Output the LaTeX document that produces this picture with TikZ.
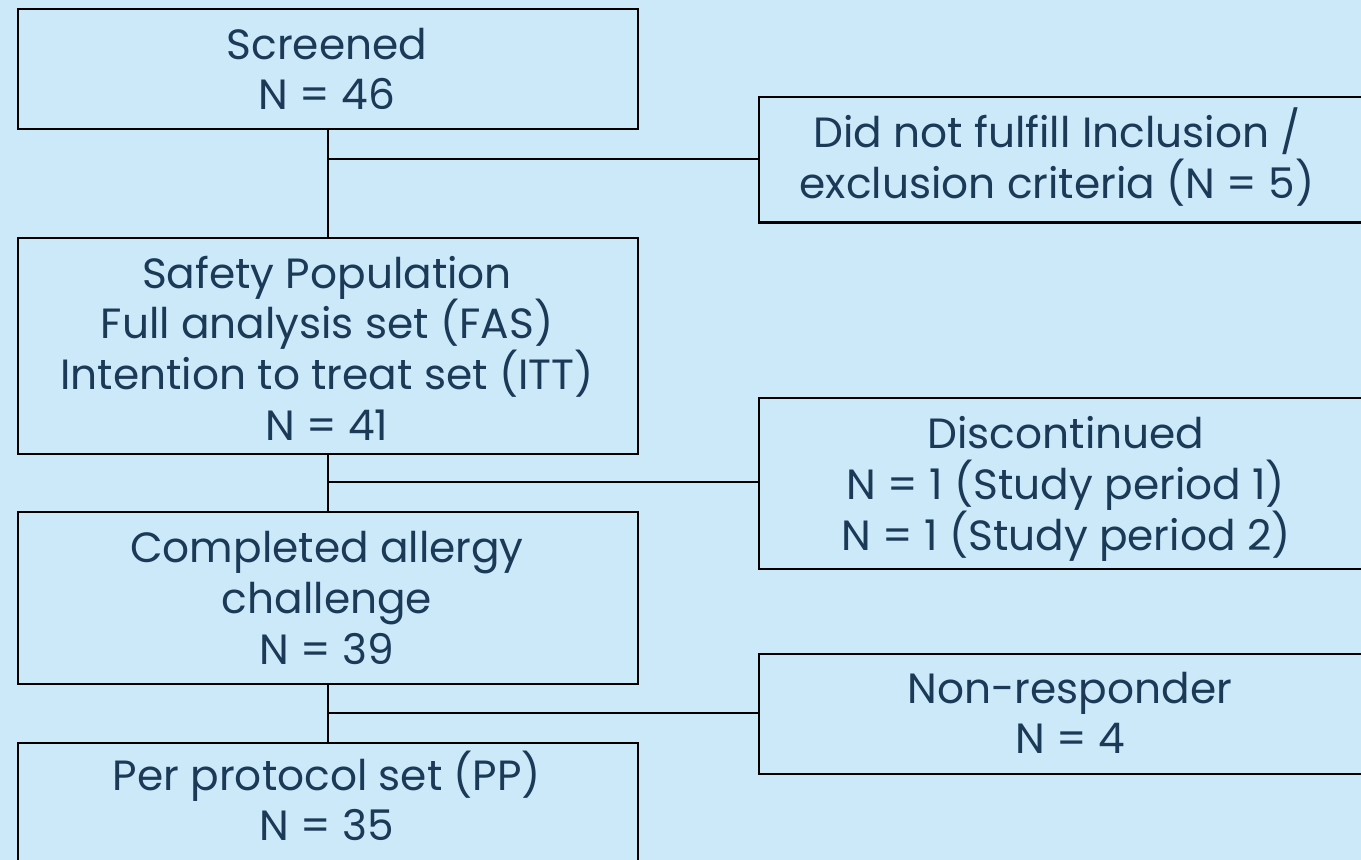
\documentclass[tikz,border=0pt]{standalone}
\usepackage{fontspec}
\setmainfont{Poppins}
\definecolor{bg}{HTML}{CCE9F9}
\definecolor{txt}{HTML}{1B3A57}
\begin{document}
\begin{tikzpicture}[x=0.75pt,y=-0.75pt,
  boxs/.style={draw=black,line width=1.7pt,anchor=north west,inner sep=0pt,fill=none},
  lbl/.style={text=txt,font=\fontsize{31.7}{38}\selectfont,align=center,inner sep=0pt},
  conn/.style={draw=black,line width=1.6pt}]
\fill[bg] (0,0) rectangle (1361,860);
\useasboundingbox (0,0) rectangle (1361,860);
\clip (0,0) rectangle (1361,860);
% left column boxes
\node[boxs,minimum width=465pt,minimum height=90pt] (scr) at (17,8) {};
\node[boxs,minimum width=465pt,minimum height=162pt] (safe) at (17,237) {};
\node[boxs,minimum width=465pt,minimum height=129pt] (comp) at (17,511) {};
\node[boxs,minimum width=465pt,minimum height=130pt] (pp) at (17,742) {};
% right column boxes
\node[boxs,minimum width=480pt,minimum height=94pt] (dnf) at (758,96) {};
\node[boxs,minimum width=480pt,minimum height=128pt] (disc) at (758,397) {};
\node[boxs,minimum width=480pt,minimum height=90pt] (nonr) at (758,653) {};
% texts
\node[lbl] (tscr) at (327,69) {Screened\\N = 46};
\node[lbl] (tsafe) at (327,348) {Safety Population\\Full analysis set (FAS)\\Intention to treat set (ITT)\\N = 41};
\node[lbl] (tcomp) at (327,598) {Completed allergy\\challenge\\N = 39};
\node[lbl] (tpp) at (327,796) {Per protocol set (PP)\\N = 35};
\node[lbl] (tdnf) at (1057,157) {Did not fulfill Inclusion /\\exclusion criteria (N = 5)};
\node[lbl] (tdisc) at (1066,489) {Discontinued\\N = 1 (Study period 1)\\N = 1 (Study period 2)};
\node[lbl] (tnonr) at (1070,713) {Non-responder\\N = 4};
% connectors
\coordinate (b1) at (327,159);
\coordinate (b2) at (327,482);
\coordinate (b3) at (327,713);
\draw[conn] (scr.south) -- (safe.north);
\draw[conn] (safe.south) -- (comp.north);
\draw[conn] (comp.south) -- (pp.north);
\draw[conn] (b1) -- (b1 -| dnf.west);
\draw[conn] (b2) -- (b2 -| disc.west);
\draw[conn] (b3) -- (b3 -| nonr.west);
\end{tikzpicture}
\end{document}
